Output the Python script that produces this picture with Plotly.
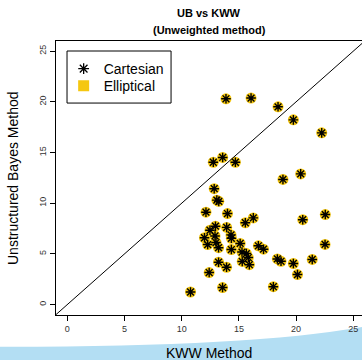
import plotly.graph_objects as go

# Data (KWW method on x, Unstructured Bayes on y)
kww = [13.87, 16.06, 18.42, 19.76, 22.24, 12.76, 13.58, 14.69, 20.40, 18.85,
       12.84, 13.07, 13.24, 12.12, 14.00, 22.55, 20.58, 16.26, 15.56, 12.95,
       12.47, 13.93, 14.31, 14.34, 12.91, 11.99, 13.00, 12.27, 13.22, 14.34,
       15.11, 16.70, 17.15, 15.27, 15.65, 15.82, 15.91, 15.29, 18.36, 18.68,
       19.76, 21.41, 22.53, 20.12, 13.22, 13.92, 12.40, 13.57, 18.01, 10.77]
ub = [20.30, 20.37, 19.51, 18.22, 16.94, 14.04, 14.51, 14.04, 12.89, 12.34,
      11.43, 10.30, 10.18, 9.11, 8.98, 8.88, 8.37, 8.55, 8.07, 7.73,
      7.33, 7.61, 6.87, 6.54, 6.77, 6.59, 6.12, 5.92, 5.61, 5.43,
      6.03, 5.80, 5.46, 5.18, 5.03, 4.64, 3.93, 4.25, 4.50, 4.27,
      4.05, 4.45, 5.93, 2.96, 4.18, 3.68, 3.16, 1.68, 1.76, 1.24]
series_names = ["Cartesian", "Elliptical"]
tick_vals = [0, 5, 10, 15, 20, 25]
x_range = [-0.99, 25.76]
y_range = [-1.03, 26.0]

YELLOW = "#F5C710"
FONT = "Liberation Sans, Arial, sans-serif"

fig = go.Figure()

# Elliptical: yellow filled circles (behind)
fig.add_trace(go.Scatter(x=kww, y=ub, mode="markers", showlegend=False,
                         marker=dict(symbol="circle", size=11, color=YELLOW,
                                     line=dict(width=0))))
# Cartesian: black asterisks (on top)
fig.add_trace(go.Scatter(x=kww, y=ub, mode="markers", showlegend=False,
                         marker=dict(symbol="asterisk-open", size=8, color="black",
                                     line=dict(width=1.4, color="black"))))
# Legend entries (one legend each, for exact placement)
fig.add_trace(go.Scatter(x=[None], y=[None], mode="markers", name=series_names[0],
                         legend="legend",
                         marker=dict(symbol="asterisk-open", size=9, color="black",
                                     line=dict(width=1.3, color="black"))))
fig.add_trace(go.Scatter(x=[None], y=[None], mode="markers", name=series_names[1],
                         legend="legend2",
                         marker=dict(symbol="square", size=11, color=YELLOW,
                                     line=dict(width=0))))

# y = x reference line
lo = min(x_range[0], y_range[0])
hi = max(x_range[1], y_range[1])
fig.add_shape(type="line", xref="x", yref="y", x0=lo, y0=lo, x1=hi, y1=hi,
              line=dict(color="black", width=1))

# Legend box
fig.add_shape(type="rect", xref="paper", yref="paper",
              x0=0.036, x1=0.376, y0=0.7735, y1=0.9635,
              line=dict(color="black", width=1), fillcolor="rgba(0,0,0,0)")

# Light blue decorative swoosh at the bottom
fig.add_shape(type="path", xref="paper", yref="paper", layer="below",
              path="M -0.2,-0.116 Q 0.65,-0.118 1.02,-0.04 L 1.02,-0.25 L -0.2,-0.25 Z",
              fillcolor="#B3DEF3", line=dict(width=0))

# Titles
fig.add_annotation(text="<b>UB vs KWW</b>", xref="paper", yref="paper", x=0.5, y=1.102,
                   showarrow=False, font=dict(size=11, color="black", family=FONT),
                   xanchor="center", yanchor="middle")
fig.add_annotation(text="<b>(Unweighted method)</b>", xref="paper", yref="paper", x=0.5, y=1.040,
                   showarrow=False, font=dict(size=11, color="black", family=FONT),
                   xanchor="center", yanchor="middle")
fig.add_annotation(text="KWW Method", xref="paper", yref="paper", x=0.5, y=-0.14,
                   showarrow=False, font=dict(size=14, color="black", family=FONT),
                   xanchor="center", yanchor="middle")
fig.add_annotation(text="Unstructured Bayes Method", xref="paper", yref="paper",
                   x=-0.1405, y=0.5, textangle=-90,
                   showarrow=False, font=dict(size=14, color="black", family=FONT),
                   xanchor="center", yanchor="middle")

leg_common = dict(xanchor="left", yanchor="middle", bgcolor="rgba(0,0,0,0)",
                  borderwidth=0, font=dict(size=14, color="black", family=FONT),
                  itemsizing="trace")
fig.update_layout(
    width=362, height=360,
    margin=dict(l=56, r=0, t=41, b=45),
    plot_bgcolor="white", paper_bgcolor="white",
    font=dict(family=FONT, color="black"),
    legend=dict(x=0.025, y=0.8977, **leg_common),
    legend2=dict(x=0.025, y=0.8356, **leg_common),
)
fig.update_xaxes(range=x_range, tickvals=tick_vals, showgrid=False, zeroline=False,
                 showline=True, linecolor="black", linewidth=1, mirror=True,
                 ticks="outside", ticklen=5, tickcolor="black",
                 tickfont=dict(size=9, color="#333333", family=FONT))
fig.update_yaxes(range=y_range, tickvals=tick_vals, showgrid=False, zeroline=False,
                 showline=True, linecolor="black", linewidth=1, mirror=False,
                 ticks="outside", ticklen=5, tickcolor="black", tickangle=-90,
                 tickfont=dict(size=9, color="#333333", family=FONT))

fig.write_html("out.html", config={"displayModeBar": False},
               post_script="document.body.style.margin='0px';")
